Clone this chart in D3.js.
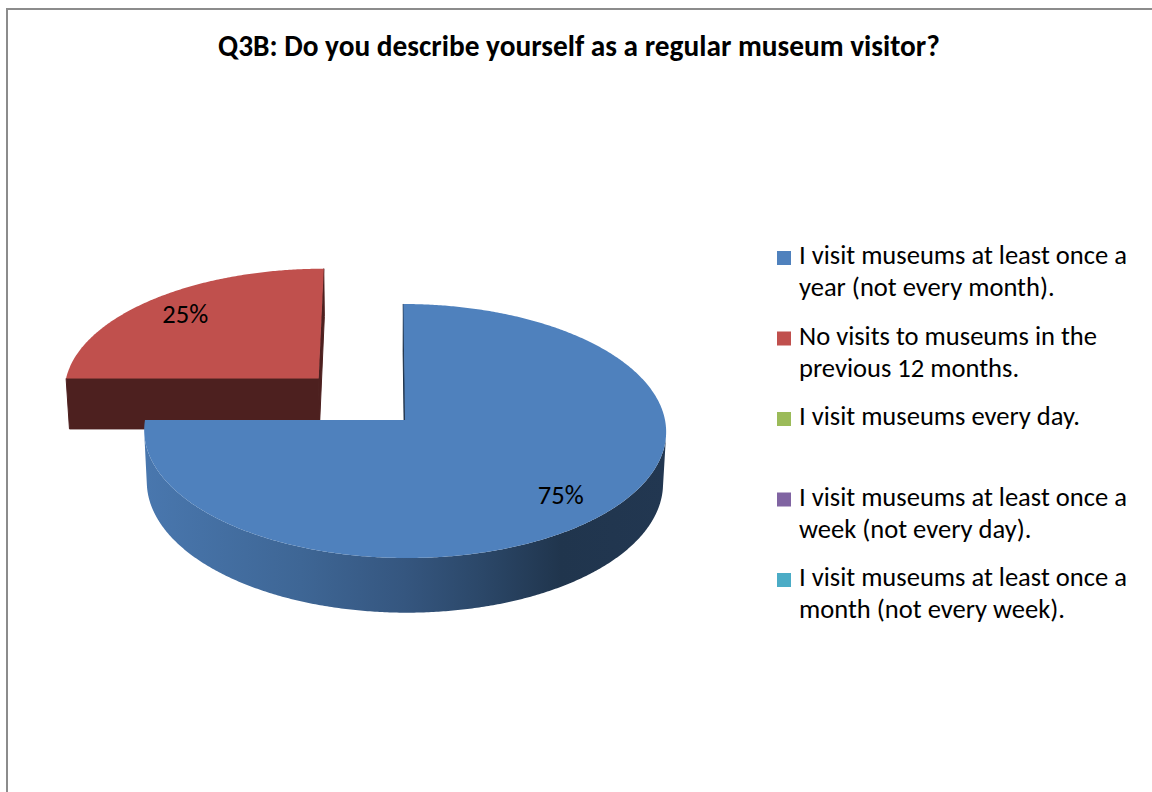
<!DOCTYPE html>
<html>
<head>
<meta charset="utf-8">
<script src="https://cdn.jsdelivr.net/npm/d3@7"></script>
<style>
  html, body { margin: 0; padding: 0; background: #fff; overflow: hidden; }
  text { font-family: Carlito, Calibri, Lato, "Open Sans", sans-serif; }
</style>
</head>
<body>
<svg id="chart" width="1152" height="792"></svg>
<script>
// ---- data ----
const chartTitle = "Q3B: Do you describe yourself as a regular museum visitor?";
const categories = [
  "I visit museums at least once a year (not every month).",
  "No visits to museums in the previous 12 months.",
  "I visit museums every day.",
  "I visit museums at least once a week (not every day).",
  "I visit museums at least once a month (not every week)."
];
const values = [75, 25, 0, 0, 0];
const colors = ["#4F81BD", "#C0504D", "#9BBB59", "#8064A2", "#4BACC6"];

// ---- layout / 3D view ----
const W = 1152, H = 792;
const view = {
  cx: 405, cy: 420,        // screen position of the pie centre
  F: 260,                  // screen radius at the centre depth
  D: 10.1,                 // camera distance (in pie radii)
  camX: -0.08,             // sideways camera offset (in pie radii)
  phi: 29 * Math.PI / 180, // elevation
  h: 0.229,                // thickness (in pie radii)
  explode: 0.48            // offset of the pulled-out slice
};
const explodedSlice = 1;
const labelRadius = 0.8;

const svg = d3.select("#chart");
const defs = svg.append("defs");

// frame
svg.append("path")
  .attr("d", `M7,${H + 5}V9H${W + 5}`)
  .attr("fill", "none")
  .attr("stroke", "#8c8c8c")
  .attr("stroke-width", 2);

const sinP = Math.sin(view.phi), cosP = Math.cos(view.phi);
const cam = [view.camX, view.D * sinP, -view.D * cosP];
const cx0 = view.cx + view.F * view.camX;

function project(x, y, z) {
  const d = view.D - y * sinP + z * cosP;
  const v = y * cosP + z * sinP;
  return [cx0 + view.F * view.D * (x - view.camX) / d, view.cy - view.F * view.D * v / d];
}
function depth(x, y, z) { return view.D - y * sinP + z * cosP; }

const line = d3.line();
const rows = categories.map((c, i) => ({ name: c, value: values[i], color: colors[i], i }));
const total = d3.sum(values);
const arcs = d3.pie().sort(null).value(d => d.value)(rows);
const pct = d3.format(".0%");

function scaled(col, k) {
  const c = d3.rgb(col);
  return d3.rgb(c.r * k, c.g * k, c.b * k).formatHex();
}

const slices = arcs.filter(a => a.data.value > 0).map(a => {
  const mid = (a.startAngle + a.endAngle) / 2;
  const e = a.data.i === explodedSlice ? view.explode : 0;
  const ox = e * Math.sin(mid), oz = e * Math.cos(mid);
  return { a, mid, ox, oz, dep: depth(ox + 0.5 * Math.sin(mid), 0, oz + 0.5 * Math.cos(mid)) };
});
slices.sort((p, q) => q.dep - p.dep);

const pieG = svg.append("g");

slices.forEach(s => {
  const { a, ox, oz } = s;
  const col = a.data.color;
  const g = pieG.append("g");
  const rim = (ang, y) => project(ox + Math.sin(ang), y, oz + Math.cos(ang));
  const n = Math.max(2, Math.ceil((a.endAngle - a.startAngle) / (Math.PI / 360)));
  const angs = d3.range(n + 1).map(k => a.startAngle + (a.endAngle - a.startAngle) * k / n);

  // outer wall: runs that face the camera
  const visible = ang => {
    const px = ox + Math.sin(ang), pz = oz + Math.cos(ang);
    return Math.sin(ang) * (cam[0] - px) + Math.cos(ang) * (cam[2] - pz) > 0;
  };
  const runs = [];
  let cur = null;
  angs.forEach(ang => {
    if (visible(ang)) { if (!cur) { cur = []; runs.push(cur); } cur.push(ang); }
    else cur = null;
  });

  // shading across the wall, light on the left, dark on the right
  const gid = "wall" + a.data.i;
  const grad = defs.append("linearGradient").attr("id", gid)
    .attr("gradientUnits", "userSpaceOnUse")
    .attr("x1", project(ox - 1, 0, oz)[0]).attr("x2", project(ox + 1, 0, oz)[0])
    .attr("y1", 0).attr("y2", 0);
  [[0, 0.92], [0.3, 0.79], [0.5, 0.67], [0.65, 0.55], [0.8, 0.41], [1, 0.43]].forEach(([o, k]) =>
    grad.append("stop").attr("offset", o).attr("stop-color", scaled(col, k)));

  runs.filter(r => r.length > 1).forEach(r => {
    const pts = r.map(ang => rim(ang, 0)).concat(r.slice().reverse().map(ang => rim(ang, -view.h)));
    g.append("path").attr("d", line(pts) + "Z").attr("fill", `url(#${gid})`);
  });

  // radial cut faces
  const faceCol = scaled(col, 0.4);
  [[a.startAngle, -1], [a.endAngle, 1]].forEach(([ang, sgn]) => {
    const nx = sgn * Math.cos(ang), nz = -sgn * Math.sin(ang);
    const mx = ox + 0.5 * Math.sin(ang), mz = oz + 0.5 * Math.cos(ang);
    const dot = nx * (cam[0] - mx) + nz * (cam[2] - mz);
    if (dot < -1e-6) return;
    const pts = [project(ox, 0, oz), rim(ang, 0), rim(ang, -view.h), project(ox, -view.h, oz)];
    g.append("path").attr("d", line(pts) + "Z")
      .attr("fill", faceCol).attr("stroke", faceCol).attr("stroke-width", 1)
      .attr("stroke-linejoin", "round");
  });

  // top face
  const top = [project(ox, 0, oz)].concat(angs.map(ang => rim(ang, 0)));
  g.append("path").attr("d", line(top) + "Z").attr("fill", col);
  s.label = project(ox + labelRadius * Math.sin(s.mid), 0, oz + labelRadius * Math.cos(s.mid));
});

// value labels
const labelG = svg.append("g");
const labels = labelG.selectAll("text").data(slices).join("text")
  .attr("x", d => d.label[0]).attr("y", d => d.label[1])
  .attr("text-anchor", "middle").attr("dominant-baseline", "central")
  .attr("fill", "#000")
  .text(d => pct(d.a.data.value / total));

// title, sized to its span
const titleEl = svg.append("text")
  .attr("x", 579).attr("y", 56)
  .attr("text-anchor", "middle")
  .attr("font-weight", "bold")
  .attr("font-size", 24)
  .attr("fill", "#000")
  .text(chartTitle);
const tw = titleEl.node().getComputedTextLength();
titleEl.attr("font-size", 24 * 722 / tw);

// legend
const probe = svg.append("text").attr("font-size", 24).text("I visit museums at least once a");
const legendSize = 24 * 328 / probe.node().getComputedTextLength();
probe.remove();
labels.attr("font-size", legendSize);

const wrapWidth = 345;
function wrap(str) {
  const words = str.split(" ");
  const out = [];
  let cur = "";
  const t = svg.append("text").attr("font-size", legendSize);
  words.forEach(w => {
    const test = cur ? cur + " " + w : w;
    t.text(test);
    if (t.node().getComputedTextLength() > wrapWidth && cur) { out.push(cur); cur = w; }
    else cur = test;
  });
  out.push(cur);
  t.remove();
  return out;
}

const legend = svg.append("g");
const legendY = d3.scalePoint().domain(d3.range(rows.length)).range([264, 586]);
const item = legend.selectAll("g").data(rows).join("g")
  .attr("transform", d => `translate(777,${legendY(d.i)})`);
item.append("rect").attr("x", 0).attr("y", -13).attr("width", 14).attr("height", 14)
  .attr("fill", d => d.color);
item.append("text").attr("x", 22).attr("y", 0).attr("font-size", legendSize).attr("fill", "#000")
  .selectAll("tspan").data(d => wrap(d.name)).join("tspan")
  .attr("x", 22).attr("dy", (d, k) => k === 0 ? 0 : 32)
  .text(d => d);
</script>
</body>
</html>
